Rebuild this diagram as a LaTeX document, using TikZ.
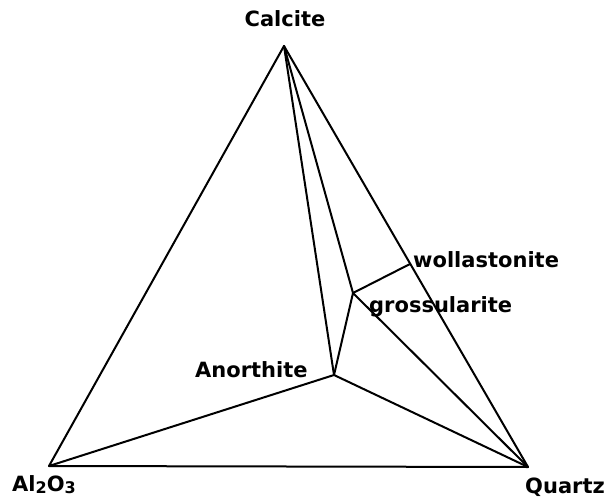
\documentclass[tikz,border=0pt]{standalone}
\usepackage{fontspec}
\newfontfamily\labfont{DejaVu Sans}
\newcommand{\lowsub}[1]{\raisebox{-0.25ex}{\fontsize{16}{18}\selectfont #1}}
\begin{document}
\begin{tikzpicture}[x=1pt,y=-1pt,
  edge/.style={line width=2pt,line cap=round,line join=round},
  lab/.style={font=\labfont\bfseries\fontsize{21}{25}\selectfont,inner sep=0pt}]
\useasboundingbox (0,0) rectangle (609,502);
\coordinate (C) at (284,46);
\coordinate (A) at (49,466);
\coordinate (Q) at (528,467);
\coordinate (An) at (334,375);
\coordinate (G) at (353,293);
\coordinate (W) at (410,264);
\draw[edge] (C) -- (A) -- (Q) -- cycle;
\draw[edge] (C) -- (An);
\draw[edge] (C) -- (G);
\draw[edge] (A) -- (An) -- (Q);
\draw[edge] (An) -- (G) -- (Q);
\draw[edge] (G) -- (W);
\node[lab,anchor=base] (lc) at (285,27) {Calcite};
\node[lab,anchor=base west] (la) at (12,491) {Al\lowsub{2}O\lowsub{3}};
\node[lab,anchor=base west] (lq) at (525,493) {Quartz};
\node[lab,anchor=base west] (lan) at (195,377) {Anorthite};
\node[lab,anchor=base west] (lw) at (413,267) {wollastonite};
\node[lab,anchor=base west] (lg) at (369,312) {grossularite};
\end{tikzpicture}
\end{document}
